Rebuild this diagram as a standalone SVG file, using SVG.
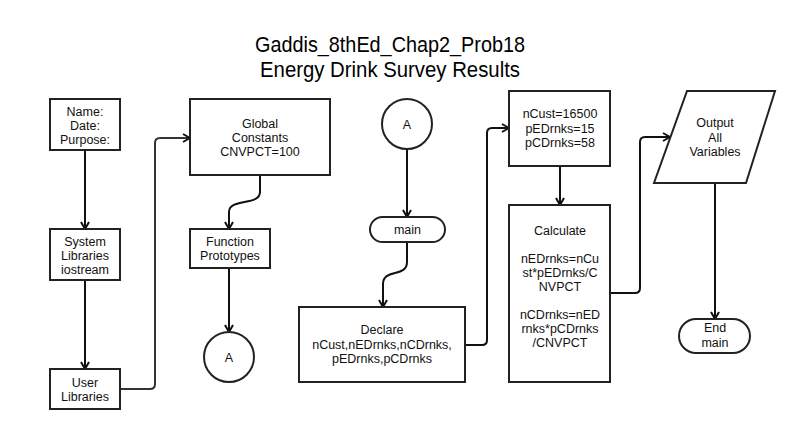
<svg xmlns="http://www.w3.org/2000/svg" width="786" height="430" viewBox="0 0 786 430">
<defs>
<style>
.box{fill:#fff;stroke:#222;stroke-width:2}
.t{font-family:"Liberation Sans",Arial,sans-serif;font-size:12.5px;fill:#111;text-anchor:middle}
.title{font-family:"Liberation Sans",Arial,sans-serif;font-size:22px;fill:#000;text-anchor:middle}
.c{fill:none;stroke:#111;stroke-width:2}
</style>
<marker id="ar" viewBox="0 0 10 10" refX="9" refY="5" markerWidth="10" markerHeight="10" markerUnits="userSpaceOnUse" orient="auto">
<path d="M2,1 L9,5 L2,9" fill="none" stroke="#111" stroke-width="2"/>
</marker>
</defs>
<rect width="786" height="430" fill="#fff"/>
<text class="title" x="390" y="52" textLength="270" lengthAdjust="spacingAndGlyphs">Gaddis_8thEd_Chap2_Prob18</text>
<text class="title" x="390" y="77" textLength="260" lengthAdjust="spacingAndGlyphs">Energy Drink Survey Results</text>

<g id="connectors">
<path class="c" marker-end="url(#ar)" d="M85,150 V229"/>
<path class="c" marker-end="url(#ar)" d="M85,280 V369"/>
<path class="c" style="stroke:#333" marker-end="url(#ar)" d="M120,389 H150 Q155,389 155,384 V143 Q155,138 160,138 H190"/>
<path class="c" marker-end="url(#ar)" d="M260,175 V192 C260,206 229,198 229,212 V229"/>
<path class="c" marker-end="url(#ar)" d="M229,268 V332"/>
<path class="c" marker-end="url(#ar)" d="M407,149 V217"/>
<path class="c" marker-end="url(#ar)" d="M407,242 V262 C407,278 383,268 383,284 V307"/>
<path class="c" marker-end="url(#ar)" d="M465,345 H482 Q487,345 487,340 V133 Q487,128 492,128 H509"/>
<path class="c" marker-end="url(#ar)" d="M560,166 V205"/>
<path class="c" marker-end="url(#ar)" d="M610,293 H635 Q640,293 640,288 V142 Q640,137 645,137 H670"/>
<path class="c" marker-end="url(#ar)" d="M715,183 V319"/>
</g>

<g id="header">
<rect class="box" x="50" y="99" width="70" height="51"/>
<text class="t" x="85" y="115.5">Name:</text>
<text class="t" x="85" y="129.5">Date:</text>
<text class="t" x="85" y="143.5">Purpose:</text>
</g>
<g id="syslib">
<rect class="box" x="50" y="229" width="70" height="51"/>
<text class="t" x="85" y="245.5">System</text>
<text class="t" x="85" y="259.5">Libraries</text>
<text class="t" x="85" y="273.5">iostream</text>
</g>
<g id="userlib">
<rect class="box" x="50" y="369" width="70" height="40"/>
<text class="t" x="85" y="387">User</text>
<text class="t" x="85" y="401">Libraries</text>
</g>
<g id="globals">
<rect class="box" x="190" y="99" width="140" height="76"/>
<text class="t" x="260" y="128">Global</text>
<text class="t" x="260" y="142">Constants</text>
<text class="t" x="260" y="156">CNVPCT=100</text>
</g>
<g id="protos">
<rect class="box" x="190" y="229" width="80" height="39"/>
<text class="t" x="230" y="246">Function</text>
<text class="t" x="230" y="260">Prototypes</text>
</g>
<g id="connA1">
<circle class="box" cx="229" cy="357" r="25"/>
<text class="t" x="229" y="361.5">A</text>
</g>
<g id="connA2">
<circle class="box" cx="407" cy="124" r="25"/>
<text class="t" x="407" y="128.5">A</text>
</g>
<g id="main">
<rect class="box" x="370" y="217" width="75" height="25" rx="12.5"/>
<text class="t" x="407.5" y="234">main</text>
</g>
<g id="declare">
<rect class="box" x="299" y="307" width="166" height="75"/>
<text class="t" x="382" y="334">Declare</text>
<text class="t" x="382" y="348.5">nCust,nEDrnks,nCDrnks,</text>
<text class="t" x="382" y="363">pEDrnks,pCDrnks</text>
</g>
<g id="init">
<rect class="box" x="509" y="91" width="101" height="75"/>
<text class="t" x="560" y="118">nCust=16500</text>
<text class="t" x="560" y="132.5">pEDrnks=15</text>
<text class="t" x="560" y="147">pCDrnks=58</text>
</g>
<g id="calc">
<rect class="box" x="509" y="205" width="101" height="177"/>
<text class="t" x="560" y="235">Calculate</text>
<text class="t" x="560" y="263">nEDrnks=nCu</text>
<text class="t" x="560" y="277">st*pEDrnks/C</text>
<text class="t" x="560" y="291">NVPCT</text>
<text class="t" x="560" y="319">nCDrnks=nED</text>
<text class="t" x="560" y="333">rnks*pCDrnks</text>
<text class="t" x="560" y="347">/CNVPCT</text>
</g>
<g id="output">
<polygon class="box" points="687,91 775,91 746,183 654,183"/>
<text class="t" x="715" y="127">Output</text>
<text class="t" x="715" y="142">All</text>
<text class="t" x="715" y="156">Variables</text>
</g>
<g id="end">
<rect class="box" x="679" y="319" width="71" height="34" rx="17"/>
<text class="t" x="715" y="332">End</text>
<text class="t" x="715" y="347">main</text>
</g>
</svg>
